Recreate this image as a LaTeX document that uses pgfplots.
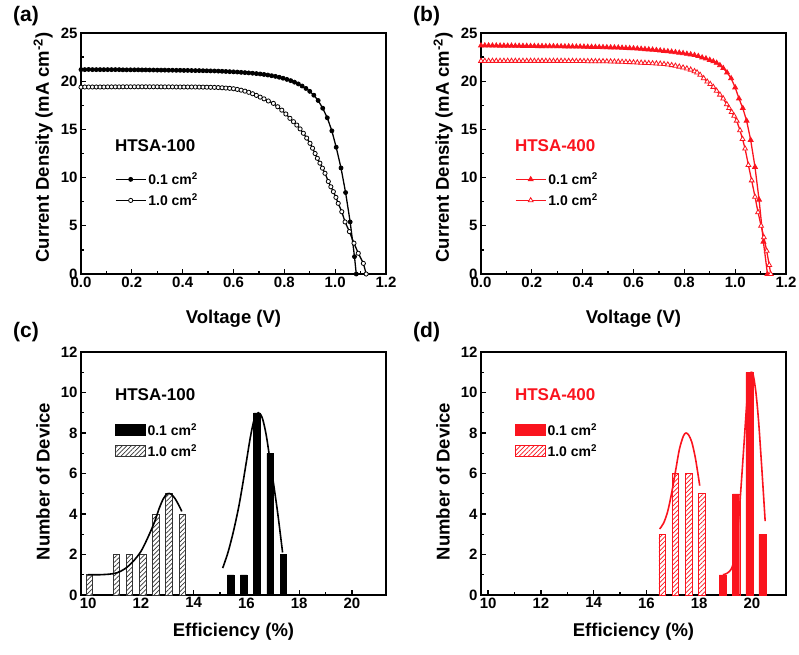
\documentclass[border=0pt]{standalone}
\usepackage{fontspec}
\setmainfont{Liberation Sans}
\newfontfamily\boldsans{Liberation Sans}[UprightFont={* Bold}]
\usepackage{pgfplots}
\pgfplotsset{compat=1.18}
\usetikzlibrary{patterns.meta}
\definecolor{myred}{RGB}{250,20,30}
\newcommand{\tl}[1]{\hbox{\boldsans\fontsize{15}{15}\selectfont #1}}
\pgfplotsset{
  base/.style={
    scale only axis, width=305pt,
    axis line style={line width=1.6pt},
    tick align=inside, tick pos=left,
    major tick length=5pt, minor tick length=3pt,
    every tick/.style={line width=1.3pt, black},
    tick label style={font=\boldsans\fontsize{15}{15}\selectfont},
    xticklabel style={yshift=1pt},
    every axis x label/.style={at={(axis description cs:0.5,0)}, anchor=north, inner sep=0pt, font=\fontsize{18.5}{18.5}\selectfont\bfseries},
    every axis y label/.style={at={(axis description cs:-0.092,0.525)}, rotate=90, anchor=south, inner sep=0pt, font=\fontsize{18.5}{18.5}\selectfont\bfseries},
    legend cell align=left,
    legend style={draw=none, fill=none, font=\fontsize{14}{14}\selectfont\bfseries, anchor=north west, row sep=3.5pt, inner sep=0pt},
  },
  jv/.style={base, height=241pt, xmin=0, xmax=1.2, ymin=0, ymax=25,
    xtick={0,0.2,0.4,0.6,0.8,1.0,1.2}, ytick={0,5,10,15,20,25},
    xticklabels={\tl{0.0},\tl{0.2},\tl{0.4},\tl{0.6},\tl{0.8},\tl{1.0},\tl{1.2}},
    yticklabels={\tl{0},\tl{5},\tl{10},\tl{15},\tl{20},\tl{25}},
    minor x tick num=1, minor y tick num=1,
    xlabel={Voltage (V)}, ylabel={Current Density (mA cm\textsuperscript{-2})},
    xlabel style={yshift=-36pt},
    legend image code/.code={\draw[mark repeat=2,mark phase=2,##1] plot coordinates {(0pt,0pt) (15pt,0pt) (30pt,0pt)};},
    legend style={at={(0.111,0.43)}}},
  hist/.style={base, height=243pt, xmin=9.73, xmax=21.29, ymin=0, ymax=12,
    xtick={10,12,14,16,18,20}, ytick={0,2,4,6,8,10,12},
    xticklabels={\tl{10},\tl{12},\tl{14},\tl{16},\tl{18},\tl{20}},
    yticklabels={\tl{0},\tl{2},\tl{4},\tl{6},\tl{8},\tl{10},\tl{12}},
    minor x tick num=1, minor y tick num=1,
    xlabel={Efficiency (\%)}, ylabel={Number of Device},
    xlabel style={yshift=-28pt},
    ylabel style={at={(axis description cs:-0.102,0.467)}},
    legend style={at={(0.11,0.716)}}},
  barleg/.style={legend image code/.code={\draw[##1] (0pt,-5.5pt) rectangle (30pt,5.5pt);}},
}
\begin{document}
\begin{tikzpicture}
\useasboundingbox (0,0) rectangle (799pt,-654pt);
\node[anchor=west, font=\fontsize{21}{21}\selectfont\bfseries, inner sep=0pt] at (13pt,-16pt) {(a)};
\node[anchor=west, font=\fontsize{21}{21}\selectfont\bfseries, inner sep=0pt] at (413pt,-16pt) {(b)};
\node[anchor=west, font=\fontsize{21}{21}\selectfont\bfseries, inner sep=0pt] at (13pt,-332pt) {(c)};
\node[anchor=west, font=\fontsize{21}{21}\selectfont\bfseries, inner sep=0pt] at (413pt,-332pt) {(d)};

% (a)
\begin{axis}[jv, at={(81pt,-274pt)}, anchor=south west]
\addplot[black, line width=1.3pt, mark=*, mark size=2pt, mark options={line width=0.8pt}] coordinates {
(0,21.2)(0.015,21.2)(0.03,21.22)(0.045,21.2)(0.06,21.2)(0.075,21.2)(0.09,21.2)(0.105,21.2)(0.12,21.2)(0.135,21.2)(0.15,21.2)(0.165,21.18)(0.18,21.18)(0.195,21.18)(0.21,21.18)(0.225,21.18)(0.24,21.17)(0.255,21.17)(0.27,21.16)(0.285,21.16)(0.3,21.15)(0.315,21.15)(0.33,21.15)(0.345,21.14)(0.36,21.14)(0.375,21.13)(0.39,21.13)(0.405,21.12)(0.42,21.12)(0.435,21.11)(0.45,21.1)(0.465,21.1)(0.48,21.09)(0.495,21.08)(0.51,21.07)(0.525,21.06)(0.54,21.05)(0.555,21.03)(0.57,21.01)(0.585,20.99)(0.6,20.97)(0.615,20.95)(0.63,20.92)(0.645,20.89)(0.66,20.86)(0.675,20.83)(0.69,20.79)(0.705,20.75)(0.72,20.7)(0.735,20.64)(0.75,20.57)(0.765,20.5)(0.78,20.41)(0.795,20.31)(0.81,20.19)(0.825,20.06)(0.84,19.9)(0.855,19.72)(0.87,19.5)(0.885,19.25)(0.9,18.95)(0.916,18.55)(0.933,18.0)(0.951,17.2)(0.969,16.2)(0.987,14.85)(1.004,13.15)(1.023,11.0)(1.041,8.45)(1.059,5.4)(1.076,1.8)(1.083,0)};
\addlegendentry{0.1 cm\textsuperscript{2}}
\addplot[black, line width=1.3pt, mark=*, mark size=2.1pt, mark options={fill=white, line width=0.8pt}] coordinates {
(0,19.38)(0.015,19.4)(0.03,19.4)(0.045,19.4)(0.06,19.4)(0.075,19.4)(0.09,19.4)(0.105,19.41)(0.12,19.41)(0.135,19.41)(0.15,19.41)(0.165,19.42)(0.18,19.42)(0.195,19.42)(0.21,19.42)(0.225,19.42)(0.24,19.42)(0.255,19.42)(0.27,19.42)(0.285,19.42)(0.3,19.42)(0.315,19.41)(0.33,19.41)(0.345,19.41)(0.36,19.41)(0.375,19.4)(0.39,19.4)(0.405,19.4)(0.42,19.4)(0.435,19.4)(0.45,19.4)(0.465,19.39)(0.48,19.39)(0.495,19.38)(0.51,19.37)(0.525,19.36)(0.54,19.34)(0.555,19.32)(0.57,19.29)(0.585,19.26)(0.6,19.22)(0.615,19.15)(0.63,19.07)(0.645,18.97)(0.66,18.85)(0.675,18.7)(0.69,18.53)(0.705,18.35)(0.72,18.17)(0.737,17.95)(0.757,17.7)(0.774,17.35)(0.79,17.0)(0.806,16.6)(0.822,16.15)(0.836,15.8)(0.849,15.45)(0.862,15.05)(0.875,14.6)(0.888,14.1)(0.901,13.56)(0.911,13.05)(0.921,12.5)(0.93,12.0)(0.94,11.5)(0.95,10.98)(0.96,10.45)(0.973,9.6)(0.983,9.05)(0.993,8.54)(1.003,7.95)(1.012,7.33)(1.026,6.46)(1.039,5.4)(1.056,4.4)(1.074,3.2)(1.091,2.15)(1.111,1.1)(1.122,0)};
\addlegendentry{1.0 cm\textsuperscript{2}}
\node[anchor=west, font=\fontsize{17}{17}\selectfont\bfseries] at (rel axis cs:0.1,0.531) {HTSA-100};
\end{axis}

% (b)
\begin{axis}[jv, at={(481pt,-274pt)}, anchor=south west]
\addplot[myred, line width=1.3pt, mark=triangle*, mark size=2.8pt, mark options={line width=0.8pt}] coordinates {
(0,23.7)(0.015,23.7)(0.03,23.7)(0.045,23.69)(0.06,23.69)(0.075,23.68)(0.09,23.68)(0.105,23.67)(0.12,23.67)(0.135,23.66)(0.15,23.66)(0.165,23.65)(0.18,23.65)(0.195,23.64)(0.21,23.64)(0.225,23.63)(0.24,23.63)(0.255,23.62)(0.27,23.62)(0.285,23.62)(0.3,23.61)(0.315,23.61)(0.33,23.6)(0.345,23.6)(0.36,23.59)(0.375,23.58)(0.39,23.58)(0.405,23.57)(0.42,23.56)(0.435,23.55)(0.45,23.54)(0.465,23.53)(0.48,23.52)(0.495,23.51)(0.51,23.5)(0.525,23.49)(0.54,23.48)(0.555,23.46)(0.57,23.44)(0.585,23.42)(0.6,23.4)(0.615,23.38)(0.63,23.35)(0.645,23.32)(0.66,23.29)(0.675,23.26)(0.69,23.22)(0.705,23.18)(0.72,23.13)(0.735,23.09)(0.75,23.05)(0.765,23.0)(0.78,22.95)(0.795,22.9)(0.81,22.83)(0.825,22.77)(0.84,22.7)(0.855,22.6)(0.87,22.45)(0.885,22.35)(0.9,22.2)(0.914,22.05)(0.927,21.9)(0.94,21.65)(0.953,21.35)(0.968,20.9)(0.984,20.3)(1.0,19.35)(1.015,18.2)(1.03,17.2)(1.045,15.9)(1.061,13.9)(1.078,11.1)(1.094,7.7)(1.111,3.35)(1.127,0)};
\addlegendentry{0.1 cm\textsuperscript{2}}
\addplot[myred, line width=1.3pt, mark=triangle*, mark size=2.8pt, mark options={fill=white, line width=0.8pt}] coordinates {
(0,22.1)(0.015,22.1)(0.03,22.1)(0.045,22.1)(0.06,22.1)(0.075,22.1)(0.09,22.1)(0.105,22.1)(0.12,22.1)(0.135,22.1)(0.15,22.1)(0.165,22.1)(0.18,22.1)(0.195,22.1)(0.21,22.1)(0.225,22.1)(0.24,22.1)(0.255,22.1)(0.27,22.1)(0.285,22.1)(0.3,22.1)(0.315,22.1)(0.33,22.09)(0.345,22.09)(0.36,22.09)(0.375,22.08)(0.39,22.08)(0.405,22.08)(0.42,22.07)(0.435,22.07)(0.45,22.07)(0.465,22.06)(0.48,22.06)(0.495,22.05)(0.51,22.04)(0.525,22.03)(0.54,22.02)(0.555,22.0)(0.57,21.99)(0.585,21.97)(0.6,21.95)(0.615,21.93)(0.63,21.91)(0.645,21.89)(0.66,21.87)(0.675,21.85)(0.69,21.83)(0.705,21.81)(0.72,21.77)(0.735,21.72)(0.75,21.66)(0.765,21.59)(0.78,21.5)(0.795,21.41)(0.81,21.31)(0.825,21.19)(0.84,21.03)(0.85,20.9)(0.862,20.65)(0.876,20.3)(0.89,19.95)(0.902,19.7)(0.914,19.4)(0.927,19.0)(0.94,18.6)(0.953,18.2)(0.967,17.6)(0.976,17.2)(0.986,16.8)(0.996,16.4)(1.006,15.9)(1.019,14.9)(1.029,14.0)(1.039,13.0)(1.052,11.3)(1.065,9.7)(1.078,8.0)(1.09,6.4)(1.102,5.0)(1.113,3.8)(1.124,2.4)(1.134,0.93)(1.14,0)};
\addlegendentry{1.0 cm\textsuperscript{2}}
\node[anchor=west, text=myred, font=\fontsize{17}{17}\selectfont\bfseries] at (rel axis cs:0.1,0.531) {HTSA-400};
\end{axis}

% (c)
\begin{axis}[hist, at={(81pt,-595pt)}, anchor=south west]
\addplot[ybar, bar width=0.25, bar shift=0pt, fill=black, draw=black, barleg] coordinates {
(15.4,1)(15.9,1)(16.4,9)(16.9,7)(17.4,2)};
\addlegendentry{0.1 cm\textsuperscript{2}}
\addplot[ybar, bar width=0.25, bar shift=0pt, draw=black!80, line width=0.8pt, fill=white, postaction={pattern={Lines[angle=45,distance=3.2pt,line width=0.7pt]}, pattern color=black!80}, barleg] coordinates {
(10.05,1)(11.07,2)(11.57,2)(12.07,2)(12.57,4)(13.07,5)(13.57,4)};
\addlegendentry{1.0 cm\textsuperscript{2}}
\addplot[black, line width=1.6pt, smooth, forget plot] coordinates {
(10.0,1.0)(10.4,1.0)(10.8,1.03)(11.1,1.1)(11.4,1.3)(11.7,1.65)(12.0,2.15)(12.25,2.8)(12.5,3.55)(12.7,4.3)(12.85,4.75)(13.0,5.0)(13.15,4.98)(13.3,4.75)(13.45,4.4)(13.55,4.13)};
\addplot[black, line width=1.6pt, smooth, forget plot] coordinates {
(15.1,1.33)(15.3,2.1)(15.5,3.1)(15.7,4.3)(15.85,5.4)(16.0,6.6)(16.15,7.8)(16.3,8.7)(16.45,9.0)(16.6,8.75)(16.75,7.9)(16.9,6.6)(17.05,5.3)(17.2,3.9)(17.37,2.1)};
\node[anchor=west, font=\fontsize{17}{17}\selectfont\bfseries] at (rel axis cs:0.1,0.823) {HTSA-100};
\end{axis}

% (d)
\begin{axis}[hist, at={(481pt,-595pt)}, anchor=south west]
\addplot[ybar, bar width=0.27, bar shift=0pt, fill=myred, draw=myred, barleg] coordinates {
(18.9,1)(19.4,5)(19.9,11)(20.4,3)};
\addlegendentry{0.1 cm\textsuperscript{2}}
\addplot[ybar, bar width=0.25, bar shift=0pt, draw=myred, line width=0.8pt, fill=white, postaction={pattern={Lines[angle=45,distance=3.2pt,line width=0.7pt]}, pattern color=myred}, barleg] coordinates {
(16.6,3)(17.1,6)(17.6,6)(18.1,5)};
\addlegendentry{1.0 cm\textsuperscript{2}}
\addplot[myred, line width=1.6pt, smooth, forget plot] coordinates {
(16.5,3.26)(16.65,3.55)(16.8,4.1)(16.95,5.0)(17.1,6.1)(17.25,7.2)(17.4,7.85)(17.5,8.0)(17.6,7.9)(17.72,7.55)(17.85,6.8)(17.95,6.0)(18.02,5.4)};
\addplot[myred, line width=1.6pt, smooth, forget plot] coordinates {
(18.9,1.0)(19.05,1.07)(19.2,1.25)(19.3,1.6)(19.4,2.35)(19.5,3.8)(19.6,5.6)(19.7,7.5)(19.8,9.4)(19.9,10.7)(19.97,11.0)(20.05,10.85)(20.15,10.0)(20.25,8.6)(20.35,6.7)(20.43,5.1)(20.5,3.65)};
\node[anchor=west, text=myred, font=\fontsize{17}{17}\selectfont\bfseries] at (rel axis cs:0.1,0.823) {HTSA-400};
\end{axis}
\end{tikzpicture}
\end{document}
